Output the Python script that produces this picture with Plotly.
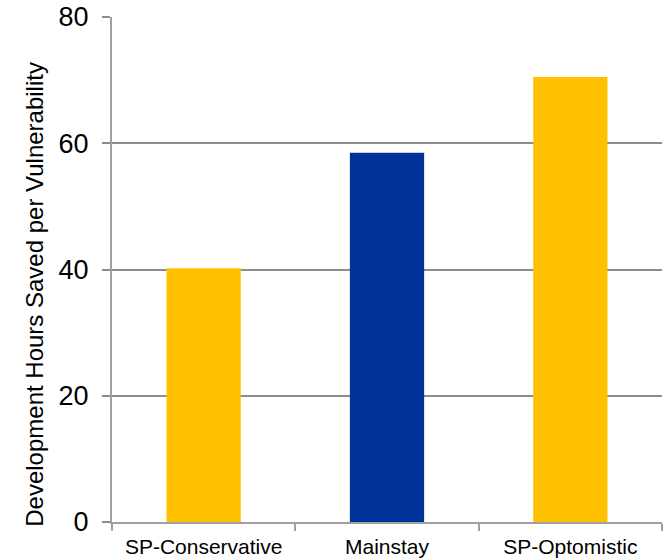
import plotly.graph_objects as go

categories = ["SP-Conservative", "Mainstay", "SP-Optomistic"]
values = [40.2, 58.5, 70.5]
bar_colors = ["#FFC000", "#003399", "#FFC000"]
y_ticks = [0, 20, 40, 60, 80]
y_title = "Development Hours Saved per Vulnerability"

FONT = "Liberation Sans, Arial, sans-serif"
GRID = "#8c8c8c"

fig = go.Figure(
    go.Bar(
        x=categories,
        y=values,
        marker=dict(color=bar_colors, line=dict(width=0)),
        width=0.405,
    )
)

fig.update_layout(
    width=664,
    height=558,
    margin=dict(l=112, r=2, t=17, b=36, autoexpand=False),
    paper_bgcolor="white",
    plot_bgcolor="white",
    showlegend=False,
    font=dict(family=FONT, color="black"),
)

fig.update_xaxes(
    type="category",
    tickson="boundaries",
    ticks="outside",
    ticklen=7,
    tickwidth=1.5,
    tickcolor="#a0a0a0",
    showline=True,
    linecolor="#a0a0a0",
    linewidth=2,
    showgrid=False,
    tickfont=dict(size=21, family=FONT, color="black"),
    ticklabelstandoff=5,
    range=[-0.5, 2.5],
)

fig.update_yaxes(
    range=[0, 80],
    tickvals=y_ticks,
    ticks="outside",
    ticklen=8,
    tickwidth=1.5,
    tickcolor="#8c8c8c",
    showline=True,
    linecolor="#a0a0a0",
    linewidth=2,
    showgrid=True,
    gridcolor=GRID,
    gridwidth=2,
    zeroline=False,
    tickfont=dict(size=27, family=FONT, color="black"),
    ticklabelstandoff=8,
)

fig.add_annotation(
    text=y_title,
    xref="paper",
    yref="paper",
    x=-0.14,
    y=0.45,
    xanchor="center",
    yanchor="middle",
    textangle=-90,
    showarrow=False,
    font=dict(size=24, family=FONT, color="black"),
)

fig.write_html("out.html")
